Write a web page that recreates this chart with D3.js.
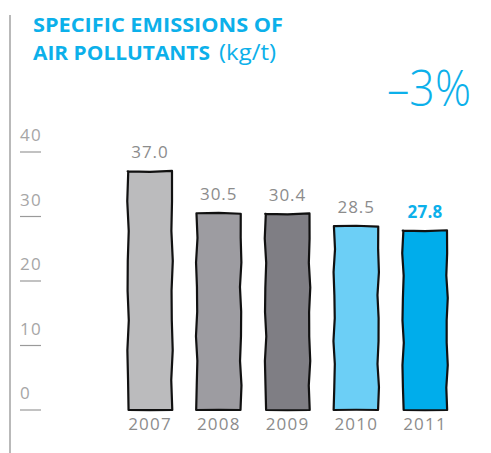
<!DOCTYPE html>
<html><head><meta charset="utf-8">
<script src="https://cdn.jsdelivr.net/npm/d3@7"></script>
<style>
html,body{margin:0;padding:0;background:#fff;}
svg{display:block;}
text{font-family:"Open Sans","Noto Sans",sans-serif;}
</style></head>
<body>
<svg id="c" width="491" height="453"></svg>
<script>
const years = ["2007","2008","2009","2010","2011"];
const values = [37.0, 30.5, 30.4, 28.5, 27.8];
const valueLabels = ["37.0","30.5","30.4","28.5","27.8"];
const barColors = ["#bbbbbd","#9d9ca1","#7f7e84","#6ccff6","#00adeb"];
const yTicks = [0,10,20,30,40];
const titleLine1 = "SPECIFIC EMISSIONS OF";
const titleLine2 = "AIR POLLUTANTS";
const unit = "(kg/t)";
const change = "\u20133%";

const svg = d3.select("#c");
const blue = "#0cb0ea";
const grey = "#8c8c8c";

// left vertical rule
svg.append("line").attr("x1",10).attr("x2",10).attr("y1",15).attr("y2",453)
  .attr("stroke","#a8a8a8").attr("stroke-width",1.6);

// title
svg.append("text").attr("x",33).attr("y",32).attr("fill",blue)
  .attr("font-size",20).attr("font-weight",700).attr("textLength",250).attr("lengthAdjust","spacingAndGlyphs")
  .text(titleLine1);
svg.append("text").attr("x",33).attr("y",60).attr("fill",blue).attr("font-size",20)
  .attr("font-weight",700).attr("textLength",177).attr("lengthAdjust","spacingAndGlyphs").text(titleLine2);
svg.append("text").attr("x",219).attr("y",60).attr("fill",blue).attr("font-size",21)
  .attr("font-weight",400).attr("textLength",57).attr("lengthAdjust","spacingAndGlyphs").text(unit);

svg.append("text").attr("x",471).attr("y",106).attr("text-anchor","end")
  .attr("fill",blue).attr("font-size",50).attr("font-weight",300)
  .attr("textLength",84).attr("lengthAdjust","spacingAndGlyphs").text(change);

const y = d3.scaleLinear().domain([0,40]).range([410,152]);
const x = d3.scaleBand().domain(years).range([128,447]).paddingInner(0.36).paddingOuter(0);

// y ticks: short lines with labels above
const tk = svg.append("g").selectAll("g").data(yTicks).join("g");
tk.append("line").attr("x1",20).attr("x2",41).attr("y1",d=>y(d)).attr("y2",d=>y(d))
  .attr("stroke","#9a9a9a").attr("stroke-width",1.2);
tk.append("text").attr("x",20).attr("y",d=>y(d)-11).attr("fill","#a6a6a6")
  .attr("font-size",17).attr("letter-spacing",1.2).text(d=>d);

// hand-drawn style bar outline
function wobblyPath(x0,x1,y0,y1,seed){
  const pts=[];
  const n=8;
  const w=(i,k)=>Math.sin(seed*3.1+i*2.3+k)*0.8;
  pts.push([x0+w(0,1)*0.5,y0]);
  pts.push([(x0+x1)/2,y0+w(1,2)*0.6]);
  pts.push([x1,y0+w(2,3)*0.6]);
  for(let i=1;i<=n;i++){pts.push([x1+w(i,4),y0+(y1-y0)*i/n]);}
  pts.push([(x0+x1)/2,y1+w(3,5)*0.4]);
  for(let i=n;i>=0;i--){pts.push([x0+w(i,6),y0+(y1-y0)*i/n]);}
  return d3.line().curve(d3.curveLinearClosed)(pts);
}

const bars = svg.append("g").selectAll("g").data(years).join("g");
bars.append("path")
  .attr("d",(d,i)=>wobblyPath(x(d),x(d)+x.bandwidth(),y(values[i]),y(0),i+1))
  .attr("fill",(d,i)=>barColors[i]).attr("stroke","#111").attr("stroke-width",2.2)
  .attr("stroke-linejoin","round");
bars.append("text").attr("x",d=>x(d)+x.bandwidth()/2).attr("y",(d,i)=>y(values[i])-13)
  .attr("text-anchor","middle").attr("font-size",17)
  .attr("letter-spacing",(d,i)=>i===years.length-1?0.3:1)
  .attr("fill",(d,i)=>i===years.length-1?blue:grey)
  .attr("font-weight",(d,i)=>i===years.length-1?700:400)
  .text((d,i)=>valueLabels[i]);
bars.append("text").attr("x",d=>x(d)+x.bandwidth()/2).attr("y",430)
  .attr("text-anchor","middle").attr("font-size",17).attr("letter-spacing",1.2)
  .attr("fill",grey).text(d=>d);
</script>
</body></html>
